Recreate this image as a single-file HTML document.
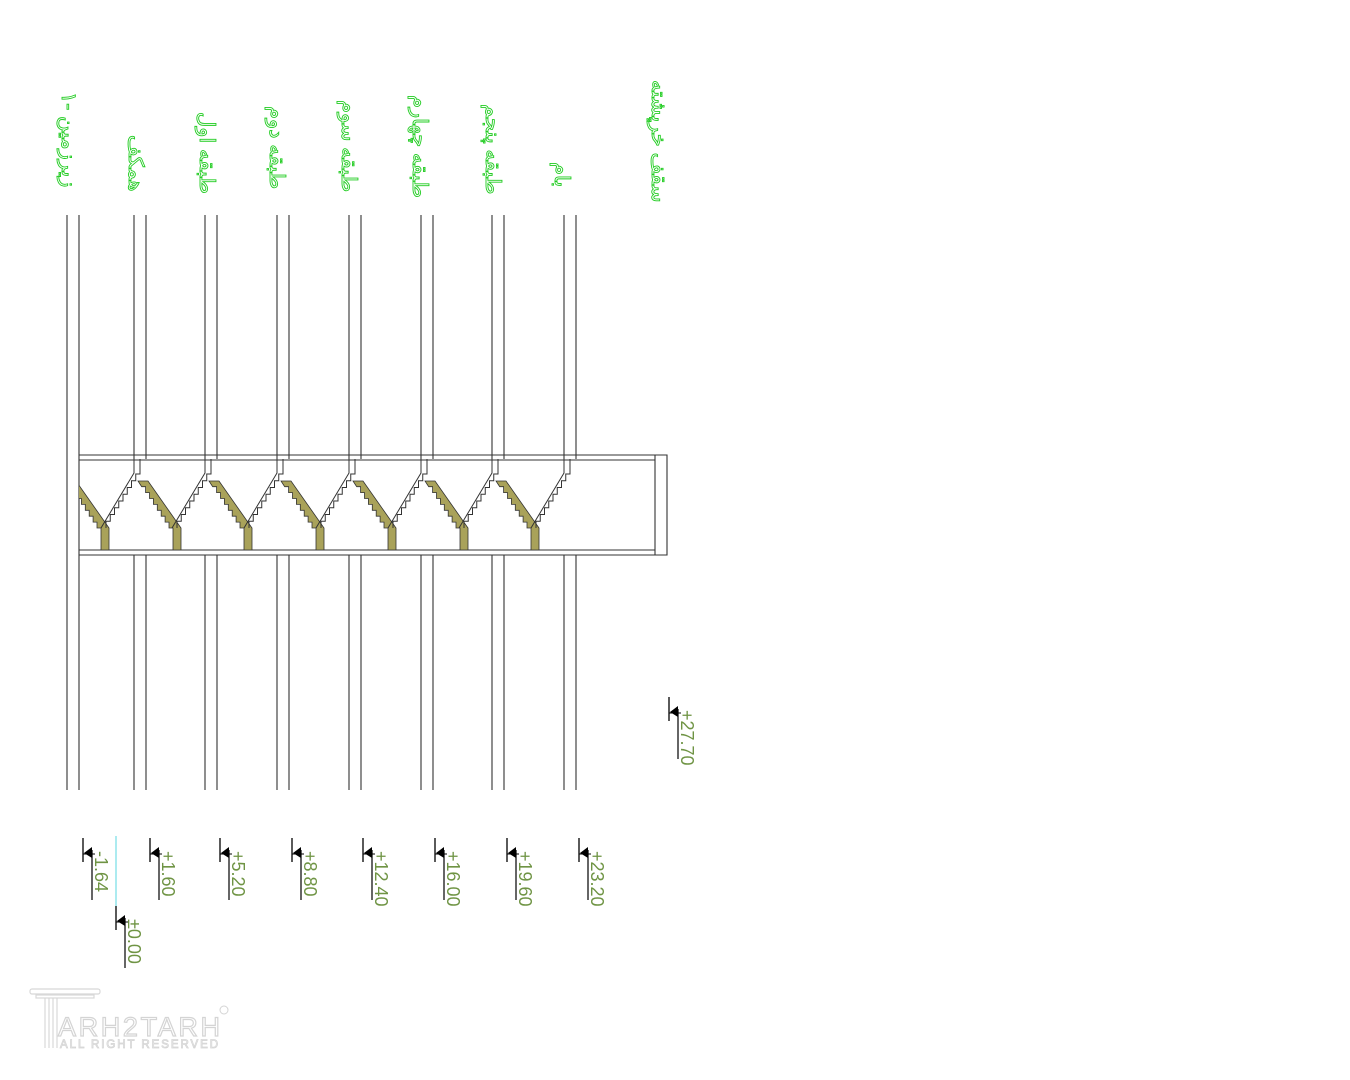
<!DOCTYPE html>
<html><head><meta charset="utf-8"><style>
html,body{margin:0;padding:0;background:#fff;width:1350px;height:1080px;overflow:hidden}
svg{display:block}
.lb{font-family:"Liberation Sans","Noto Sans CJK SC",sans-serif;font-size:21px;fill:#fff;stroke:#22cc22;stroke-width:0.9}
.el{font-family:"Liberation Sans",sans-serif;font-size:18px;fill:#6f9444}
</style></head><body>
<svg width="1350" height="1080" viewBox="0 0 1350 1080" xmlns="http://www.w3.org/2000/svg">
<defs>
<g id="ws" fill="none" stroke="#333" stroke-width="1">
 <polyline points="4,459 4,473 -29,528"/>
 <path d="M10,459 V474 h-4.25 v6.75 h-4.25 v6.75 h-4.25 v6.75 h-4.25 v6.75 h-4.25 v6.75 h-4.25 v6.75 h-4.25 v6.75 h-4.25 v6.75"/>
</g>
<g id="ol">
 <path d="M4,481 h10 l33,47 v22 h-8 v-22 h-4 v-5.9 h-3.9 v-5.9 h-3.9 v-5.9 h-3.9 v-5.9 h-3.9 v-5.9 h-3.9 v-5.9 h-3.9 v-5.9 h-3.9 z" fill="#a9a25a" stroke="#333" stroke-width="0.8"/>
</g>
<clipPath id="cl"><rect x="79" y="455" width="600" height="100"/></clipPath>
<g id="mk">
 <line x1="0" y1="0" x2="0" y2="24" stroke="#000" stroke-width="1.3"/>
 <polygon points="1,15 9,9 9,20" fill="#000"/>
 <line x1="0" y1="16" x2="12" y2="16" stroke="#000" stroke-width="1"/>
 <line x1="9" y1="12" x2="9" y2="62" stroke="#000" stroke-width="1.2"/>
</g>
</defs>

<g stroke="#333" stroke-width="1.1">
 <line x1="67" y1="215" x2="67" y2="790"/>
 <line x1="79" y1="215" x2="79" y2="790"/>
 <line x1="134" y1="215" x2="134" y2="459"/><line x1="146" y1="215" x2="146" y2="459"/>
 <line x1="205" y1="215" x2="205" y2="459"/><line x1="217" y1="215" x2="217" y2="459"/>
 <line x1="277" y1="215" x2="277" y2="459"/><line x1="289" y1="215" x2="289" y2="459"/>
 <line x1="349" y1="215" x2="349" y2="459"/><line x1="361" y1="215" x2="361" y2="459"/>
 <line x1="421" y1="215" x2="421" y2="459"/><line x1="433" y1="215" x2="433" y2="459"/>
 <line x1="492" y1="215" x2="492" y2="459"/><line x1="504" y1="215" x2="504" y2="459"/>
 <line x1="564" y1="215" x2="564" y2="459"/><line x1="576" y1="215" x2="576" y2="459"/>
 <line x1="134" y1="555" x2="134" y2="790"/><line x1="146" y1="555" x2="146" y2="790"/>
 <line x1="205" y1="555" x2="205" y2="790"/><line x1="217" y1="555" x2="217" y2="790"/>
 <line x1="277" y1="555" x2="277" y2="790"/><line x1="289" y1="555" x2="289" y2="790"/>
 <line x1="349" y1="555" x2="349" y2="790"/><line x1="361" y1="555" x2="361" y2="790"/>
 <line x1="421" y1="555" x2="421" y2="790"/><line x1="433" y1="555" x2="433" y2="790"/>
 <line x1="492" y1="555" x2="492" y2="790"/><line x1="504" y1="555" x2="504" y2="790"/>
 <line x1="564" y1="555" x2="564" y2="790"/><line x1="576" y1="555" x2="576" y2="790"/>
 <line x1="79" y1="455" x2="655" y2="455"/><line x1="79" y1="460" x2="655" y2="460"/>
 <line x1="79" y1="550" x2="655" y2="550"/><line x1="79" y1="555" x2="655" y2="555"/>
 <line x1="655" y1="455" x2="655" y2="555"/>
 <polyline points="655,455 667,455 667,555 655,555" fill="none"/>
</g>

<g clip-path="url(#cl)"><use href="#ol" x="62"/></g>
<use href="#ws" x="130"/><use href="#ol" x="134"/>
<use href="#ws" x="201"/><use href="#ol" x="205"/>
<use href="#ws" x="273"/><use href="#ol" x="277"/>
<use href="#ws" x="345"/><use href="#ol" x="349"/>
<use href="#ws" x="417"/><use href="#ol" x="421"/>
<use href="#ws" x="488"/><use href="#ol" x="492"/>
<use href="#ws" x="560"/>

<g class="lb">
 <text transform="translate(62,92) rotate(90)">زیرزمین -۱</text>
 <text transform="translate(129,135) rotate(90)">همکف</text>
 <text transform="translate(200,112) rotate(90)">طبقه اول</text>
 <text transform="translate(270,106) rotate(90)">طبقه دوم</text>
 <text transform="translate(342,100) rotate(90)">طبقه سوم</text>
 <text transform="translate(413,95) rotate(90)">طبقه چهارم</text>
 <text transform="translate(486,104) rotate(90)">طبقه پنجم</text>
 <text transform="translate(555,162) rotate(90)">بام</text>
 <text transform="translate(652,80) rotate(90)">سقف خرپشته</text>
</g>

<line x1="116" y1="836" x2="116" y2="906" stroke="#7fe0e8" stroke-width="1.3"/>
<use href="#mk" x="83" y="838"/><text class="el" transform="translate(95,851) rotate(90)">-1.64</text>
<use href="#mk" x="150" y="838"/><text class="el" transform="translate(162,851) rotate(90)">+1.60</text>
<use href="#mk" x="220" y="838"/><text class="el" transform="translate(232,851) rotate(90)">+5.20</text>
<use href="#mk" x="292" y="838"/><text class="el" transform="translate(304,851) rotate(90)">+8.80</text>
<use href="#mk" x="363" y="838"/><text class="el" transform="translate(375,851) rotate(90)">+12.40</text>
<use href="#mk" x="435" y="838"/><text class="el" transform="translate(447,851) rotate(90)">+16.00</text>
<use href="#mk" x="507" y="838"/><text class="el" transform="translate(519,851) rotate(90)">+19.60</text>
<use href="#mk" x="579" y="838"/><text class="el" transform="translate(591,851) rotate(90)">+23.20</text>
<use href="#mk" x="116" y="906"/><text class="el" transform="translate(128,919) rotate(90)">±0.00</text>
<use href="#mk" x="669" y="697"/><text class="el" transform="translate(681,710) rotate(90)">+27.70</text>

<g fill="none" stroke="#d8d8d8" stroke-width="1.2">
 <rect x="30" y="989" width="70" height="5" rx="2"/>
 <rect x="36" y="995" width="58" height="3"/>
 <line x1="45" y1="998" x2="45" y2="1048"/><line x1="49" y1="998" x2="49" y2="1048"/>
 <line x1="53" y1="998" x2="53" y2="1048"/><line x1="57" y1="998" x2="57" y2="1048"/>
</g>
<text x="58" y="1036" font-family="Liberation Sans,sans-serif" font-size="27" textLength="162" fill="#fff" stroke="#d4d4d4" stroke-width="1.2">ARH2TARH</text>
<text x="60" y="1048" font-family="Liberation Sans,sans-serif" font-size="11.5" textLength="158" fill="#fff" stroke="#d4d4d4" stroke-width="0.8">ALL RIGHT RESERVED</text>
<circle cx="224" cy="1010" r="4" fill="none" stroke="#d4d4d4"/>
</svg>
</body></html>
